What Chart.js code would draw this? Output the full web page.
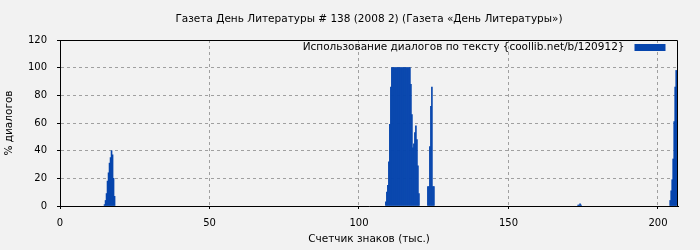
<!DOCTYPE html>
<html>
<head>
<meta charset="utf-8">
<script src="https://cdn.jsdelivr.net/npm/chart.js@4/dist/chart.umd.min.js"></script>
<style>
  html, body { margin: 0; background: #f2f2f2; }
</style>
</head>
<body>
<canvas id="chart" width="700" height="250"></canvas>
<script>
// position in text (thousand chars) and share of dialogues, %
const posK = [
  14.90, 15.24, 15.57, 15.90, 16.24, 16.57, 16.91, 17.24, 17.58, 17.91, 18.25,
  108.99, 109.33, 109.66, 110.00, 110.33, 110.67, 111.00, 111.34, 111.67, 112.01,
  112.34, 112.68, 113.01, 113.35, 113.68, 114.02, 114.35, 114.69, 115.02, 115.36,
  115.69, 116.03, 116.36, 116.70, 117.03, 117.37, 117.70, 118.04, 118.37, 118.71,
  119.04, 119.38, 119.71, 120.05,
  123.05, 123.39, 123.72, 124.06, 124.39, 124.73, 125.06,
  173.28, 173.61, 173.95, 174.28,
  204.09, 204.42, 204.76, 205.09, 205.43, 205.76, 206.10
];
const dialogPct = [
  1, 4, 9, 18, 24, 31, 35, 40, 37, 20, 7,
  3, 10, 15, 32, 59, 86, 100, 100, 100, 100,
  100, 100, 100, 100, 100, 100, 100, 100, 100, 100,
  100, 100, 100, 100, 100, 88, 66, 42, 45, 53,
  58, 48, 29, 9,
  14, 14, 43, 72, 86, 14, 14,
  0.7, 0.7, 1.5, 0.7,
  4, 11, 19, 34, 61, 86, 98
];

const chartTitle = 'Газета День Литературы # 138 (2008 2) (Газета «День Литературы»)';
const seriesLabel = 'Использование диалогов по тексту {coollib.net/b/120912}';
const xTitle = 'Счетчик знаков (тыс.)';
const yTitle = '% диалогов';
const xMax = 206.7;
const yMax = 120;

const barColor = '#0645ad';
const textFont = '10.5px "DejaVu Sans"';

// background, title over the plot, black frame on top/right, legend in the corner
const framePlugin = {
    id: 'frame',
    beforeDraw(chart) {
        const ctx = chart.ctx;
        ctx.save();
        ctx.fillStyle = '#f2f2f2';
        ctx.fillRect(0, 0, chart.width, chart.height);
        ctx.restore();
    },
    afterDatasetsDraw(chart) {
        const { ctx, chartArea: a } = chart;
        const t = Math.round(a.top) + 0.5;
        const r = Math.round(a.right) - 0.5;
        ctx.save();
        ctx.strokeStyle = '#000';
        ctx.lineWidth = 1;
        ctx.beginPath();
        ctx.moveTo(a.left, t);
        ctx.lineTo(r, t);
        ctx.lineTo(r, a.bottom);
        ctx.stroke();

        ctx.font = textFont;
        ctx.textBaseline = 'middle';

        // title, centred over the plot area
        ctx.fillStyle = '#000';
        ctx.textAlign = 'center';
        ctx.fillText(chartTitle, (a.left + a.right) / 2, 19);

        // legend
        const boxRight = a.right - 12.5;
        const boxW = 31;
        const yMid = a.top + 7.5;
        ctx.fillStyle = chart.data.datasets[0].backgroundColor;
        ctx.fillRect(boxRight - boxW, yMid - 3.5, boxW, 7);
        ctx.fillStyle = '#000';
        ctx.textAlign = 'right';
        ctx.fillText(chart.data.datasets[0].label, boxRight - boxW - 10, yMid);
        ctx.restore();
    }
};

const points = posK.map((x, i) => ({ x: x, y: dialogPct[i] }));

new Chart(document.getElementById('chart'), {
    type: 'bar',
    data: {
        datasets: [{
            label: seriesLabel,
            data: points,
            backgroundColor: barColor,
            borderWidth: 0,
            barPercentage: 1,
            categoryPercentage: 1
        }]
    },
    options: {
        responsive: false,
        animation: false,
        layout: { padding: { left: 0, right: 22, top: 40, bottom: 0 } },
        plugins: {
            title: { display: false },
            legend: { display: false },
            tooltip: { enabled: false }
        },
        scales: {
            x: {
                type: 'linear',
                min: 0,
                max: xMax,
                offset: false,
                afterFit: (scale) => { scale.height = 44; },
                ticks: {
                    stepSize: 50,
                    includeBounds: false,
                    color: '#000',
                    padding: 8,
                    maxRotation: 0,
                    font: { family: 'DejaVu Sans', size: 10 }
                },
                grid: {
                    offset: false,
                    color: '#a0a0a0',
                    tickColor: '#000',
                    tickLength: 3,
                    drawTicks: true
                },
                border: { color: '#000', width: 1, dash: [3, 3] },
                title: {
                    display: true,
                    text: xTitle,
                    color: '#000',
                    font: { family: 'DejaVu Sans', size: 10.5 },
                    padding: { top: 0, bottom: 4 }
                }
            },
            y: {
                min: 0,
                max: yMax,
                afterFit: (scale) => { scale.width = 60; },
                ticks: {
                    stepSize: 20,
                    color: '#000',
                    padding: 10,
                    font: { family: 'DejaVu Sans', size: 10 }
                },
                grid: {
                    color: '#a0a0a0',
                    tickColor: '#000',
                    tickLength: 3,
                    drawTicks: true
                },
                border: { color: '#000', width: 1, dash: [3, 3] },
                title: {
                    display: true,
                    text: yTitle,
                    color: '#000',
                    font: { family: 'DejaVu Sans', size: 10.5 },
                    padding: { top: 3, bottom: 0 }
                }
            }
        }
    },
    plugins: [framePlugin]
});
</script>
</body>
</html>
